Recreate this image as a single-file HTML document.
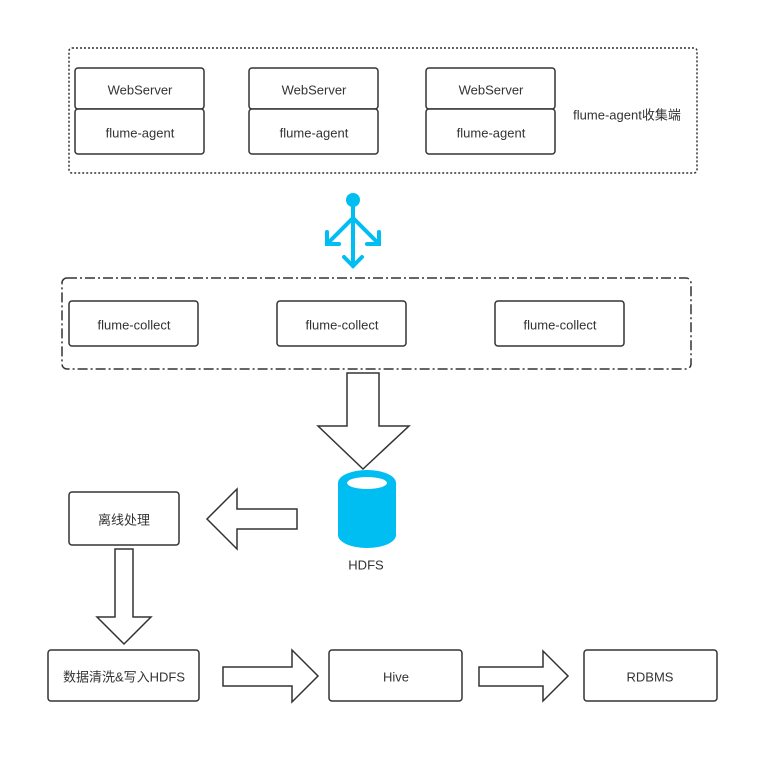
<!DOCTYPE html>
<html><head><meta charset="utf-8"><style>
html,body{margin:0;padding:0;background:#fff}
svg{display:block}
text{font-family:"Liberation Sans","Noto Sans CJK SC",sans-serif;font-size:13px;fill:#333;text-anchor:middle;dominant-baseline:middle}
</style></head><body>
<svg width="778" height="763" viewBox="0 0 778 763" xmlns="http://www.w3.org/2000/svg">
<g fill="#fff" stroke="#333" stroke-width="1.5">
<rect x="69" y="48" width="628" height="125" rx="3" fill="none" stroke-dasharray="2,2"/>
<rect x="75" y="68" width="129" height="41" rx="3"/>
<rect x="75" y="109" width="129" height="45" rx="3"/>
<rect x="249" y="68" width="129" height="41" rx="3"/>
<rect x="249" y="109" width="129" height="45" rx="3"/>
<rect x="426" y="68" width="129" height="41" rx="3"/>
<rect x="426" y="109" width="129" height="45" rx="3"/>
<rect x="62" y="278" width="629" height="91" rx="5" fill="none" stroke-dasharray="10,3,2,3"/>
<rect x="69" y="301" width="129" height="45" rx="3"/>
<rect x="277" y="301" width="129" height="45" rx="3"/>
<rect x="495" y="301" width="129" height="45" rx="3"/>
<rect x="69" y="492" width="110" height="53" rx="3"/>
<rect x="48" y="650" width="151" height="51" rx="3"/>
<rect x="329" y="650" width="133" height="51" rx="3"/>
<rect x="584" y="650" width="133" height="51" rx="3"/>
<polygon points="347,373 379,373 379,426 409,426 363,469 318,426 347,426"/>
<polygon points="297,509 237,509 237,489 207,519 237,549 237,529 297,529"/>
<polygon points="115,549 133,549 133,617 151,617 124,644 97,617 115,617"/>
<polygon points="223,667 292,667 292,650 318,676 292,702 292,686 223,686"/>
<polygon points="479,667 543,667 543,651 568,676 543,701 543,686 479,686"/>
</g>
<g stroke="#00bef2" stroke-width="4" fill="none" stroke-linecap="round">
<line x1="353" y1="200" x2="353" y2="266"/>
<polyline points="327,244 353,218 379,244"/>
<polyline points="327,232 327,244 339,244"/>
<polyline points="379,232 379,244 367,244"/>
<polyline points="344,257 353,266 362,257"/>
</g>
<circle cx="353" cy="200" r="7" fill="#00bef2"/>
<path d="M338,483 L338,535 A29,13 0 0 0 396,535 L396,483 A29,13 0 0 0 338,483 Z" fill="#00bef2"/>
<ellipse cx="367" cy="483" rx="20" ry="6" fill="#fff"/>
<text x="140" y="91">WebServer</text>
<text x="140" y="134">flume-agent</text>
<text x="314" y="91">WebServer</text>
<text x="314" y="134">flume-agent</text>
<text x="491" y="91">WebServer</text>
<text x="491" y="134">flume-agent</text>
<text x="627" y="116">flume-agent收集端</text>
<text x="134" y="326">flume-collect</text>
<text x="342" y="326">flume-collect</text>
<text x="560" y="326">flume-collect</text>
<text x="366" y="566">HDFS</text>
<text x="124" y="521">离线处理</text>
<text x="124" y="678">数据清洗&amp;写入HDFS</text>
<text x="396" y="678">Hive</text>
<text x="650" y="678">RDBMS</text>
</svg>
</body></html>
